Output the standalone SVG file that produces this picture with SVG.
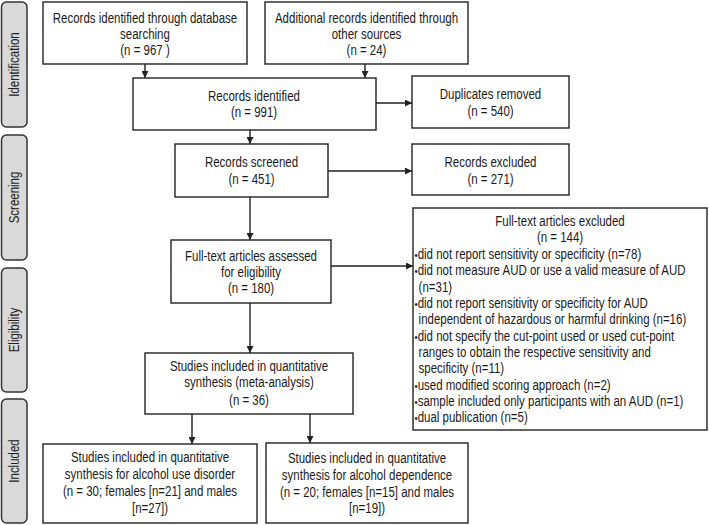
<svg xmlns="http://www.w3.org/2000/svg" width="709" height="525" viewBox="0 0 709 525">
<style>
.bar{fill:#d9d9d9;stroke:#333;stroke-width:1.5}
.box{fill:#fff;stroke:#222;stroke-width:1.4}
text{font-family:"Liberation Sans",Arial,sans-serif;font-size:14px;fill:#1a1a1a}
.c{text-anchor:middle}
.lbl{text-anchor:middle;font-size:14px;fill:#222}
.b{font-size:11px}
.con{stroke:#222;stroke-width:1.4;fill:none;marker-end:url(#ah)}
</style>
<defs>
<marker id="ah" viewBox="0 0 10 10" refX="10" refY="5" markerUnits="userSpaceOnUse" markerWidth="7" markerHeight="7" orient="auto">
<path d="M0,0 L10,5 L0,10 z" fill="#222"/>
</marker>
</defs>
<rect width="709" height="525" fill="#fff"/>

<g id="phase-identification">
<rect class="bar" x="1.5" y="2" width="25.5" height="125" rx="5"/>
<g transform="translate(19,64.5) rotate(-90) scale(0.82,1)"><text class="lbl" x="0" y="0">Identification</text></g>
</g>
<g id="phase-screening">
<rect class="bar" x="1.5" y="135" width="25.5" height="125" rx="5"/>
<g transform="translate(19,197.5) rotate(-90) scale(0.82,1)"><text class="lbl" x="0" y="0">Screening</text></g>
</g>
<g id="phase-eligibility">
<rect class="bar" x="1.5" y="268" width="25.5" height="124" rx="5"/>
<g transform="translate(19,330) rotate(-90) scale(0.82,1)"><text class="lbl" x="0" y="0">Eligibility</text></g>
</g>
<g id="phase-included">
<rect class="bar" x="1.5" y="399" width="25.5" height="124" rx="5"/>
<g transform="translate(19,461) rotate(-90) scale(0.82,1)"><text class="lbl" x="0" y="0">Included</text></g>
</g>

<g id="db-records">
<rect class="box" x="43" y="2" width="204" height="62"/>
<g transform="translate(145,0) scale(0.82,1)">
<text class="c" x="0" y="23">Records identified through database</text>
<text class="c" x="0" y="39">searching</text>
<text class="c" x="0" y="55.5">(n =  967 )</text>
</g>
</g>

<g id="other-records">
<rect class="box" x="265" y="2" width="203" height="62"/>
<g transform="translate(366.5,0) scale(0.82,1)">
<text class="c" x="0" y="23">Additional records identified through</text>
<text class="c" x="0" y="39">other sources</text>
<text class="c" x="0" y="55.5">(n = 24)</text>
</g>
</g>

<g id="records-identified">
<rect class="box" x="133" y="78" width="243" height="52"/>
<g transform="translate(254,0) scale(0.82,1)">
<text class="c" x="0" y="101">Records identified</text>
<text class="c" x="0" y="117.5">(n = 991)</text>
</g>
</g>

<g id="duplicates-removed">
<rect class="box" x="412" y="76" width="157" height="52"/>
<g transform="translate(490.5,0) scale(0.82,1)">
<text class="c" x="0" y="99.5">Duplicates removed</text>
<text class="c" x="0" y="116">(n = 540)</text>
</g>
</g>

<g id="records-screened">
<rect class="box" x="175" y="144" width="153" height="53"/>
<g transform="translate(251.5,0) scale(0.82,1)">
<text class="c" x="0" y="167">Records screened</text>
<text class="c" x="0" y="184">(n = 451)</text>
</g>
</g>

<g id="records-excluded">
<rect class="box" x="412" y="144" width="157" height="51"/>
<g transform="translate(490.5,0) scale(0.82,1)">
<text class="c" x="0" y="167">Records excluded</text>
<text class="c" x="0" y="184">(n = 271)</text>
</g>
</g>

<g id="fulltext-assessed">
<rect class="box" x="171" y="240" width="160" height="63"/>
<g transform="translate(251,0) scale(0.82,1)">
<text class="c" x="0" y="261">Full-text articles assessed</text>
<text class="c" x="0" y="277">for eligibility</text>
<text class="c" x="0" y="293.5">(n = 180)</text>
</g>
</g>

<g id="fulltext-excluded">
<rect class="box" x="413" y="208" width="294" height="222"/>
<g transform="translate(560,0) scale(0.82,1)">
<text class="c" x="0" y="226">Full-text articles excluded</text>
<text class="c" x="0" y="242.5">(n = 144)</text>
</g>
<g transform="translate(414.5,0) scale(0.82,1)">
<text x="0" y="259"><tspan class="b">•</tspan>did not report sensitivity or specificity (n=78)</text>
<text x="0" y="275.5"><tspan class="b">•</tspan>did not measure AUD or use a valid measure of AUD</text>
<text x="5" y="292">(n=31)</text>
<text x="0" y="308.5"><tspan class="b">•</tspan>did not report sensitivity or specificity for AUD</text>
<text x="5" y="324.5">independent of hazardous or harmful drinking (n=16)</text>
<text x="0" y="341"><tspan class="b">•</tspan>did not specify the cut-point used or used cut-point</text>
<text x="5" y="357">ranges to obtain the respective sensitivity and</text>
<text x="5" y="373.5">specificity (n=11)</text>
<text x="0" y="390"><tspan class="b">•</tspan>used modified scoring approach (n=2)</text>
<text x="0" y="406.5"><tspan class="b">•</tspan>sample included only participants with an AUD (n=1)</text>
<text x="0" y="422.5"><tspan class="b">•</tspan>dual publication (n=5)</text>
</g>
</g>

<g id="meta-analysis">
<rect class="box" x="145" y="353" width="208" height="61"/>
<g transform="translate(249,0) scale(0.82,1)">
<text class="c" x="0" y="371">Studies included in quantitative</text>
<text class="c" x="0" y="387.5">synthesis (meta-analysis)</text>
<text class="c" x="0" y="405">(n = 36)</text>
</g>
</g>

<g id="aud-studies">
<rect class="box" x="43" y="444" width="214" height="79"/>
<g transform="translate(150,0) scale(0.82,1)">
<text class="c" x="0" y="462.5">Studies included in quantitative</text>
<text class="c" x="0" y="479.5">synthesis for alcohol use disorder</text>
<text class="c" x="0" y="496.5">(n = 30; females [n=21] and males</text>
<text class="c" x="0" y="513.5">[n=27])</text>
</g>
</g>

<g id="dependence-studies">
<rect class="box" x="266" y="443" width="202" height="80"/>
<g transform="translate(367,0) scale(0.82,1)">
<text class="c" x="0" y="463">Studies included in quantitative</text>
<text class="c" x="0" y="480">synthesis for alcohol dependence</text>
<text class="c" x="0" y="497">(n = 20; females [n=15] and males</text>
<text class="c" x="0" y="513.5">[n=19])</text>
</g>
</g>

<g id="connectors">
<path class="con" d="M145,64 V78"/>
<path class="con" d="M365,64 V78"/>
<path class="con" d="M376,103 H412"/>
<path class="con" d="M250,130 V144"/>
<path class="con" d="M328,171 H412"/>
<path class="con" d="M250,197 V240"/>
<path class="con" d="M331,266 H413"/>
<path class="con" d="M250,303 V353"/>
<path class="con" d="M192,414 V444"/>
<path class="con" d="M310,414 V443"/>
</g>
</svg>
